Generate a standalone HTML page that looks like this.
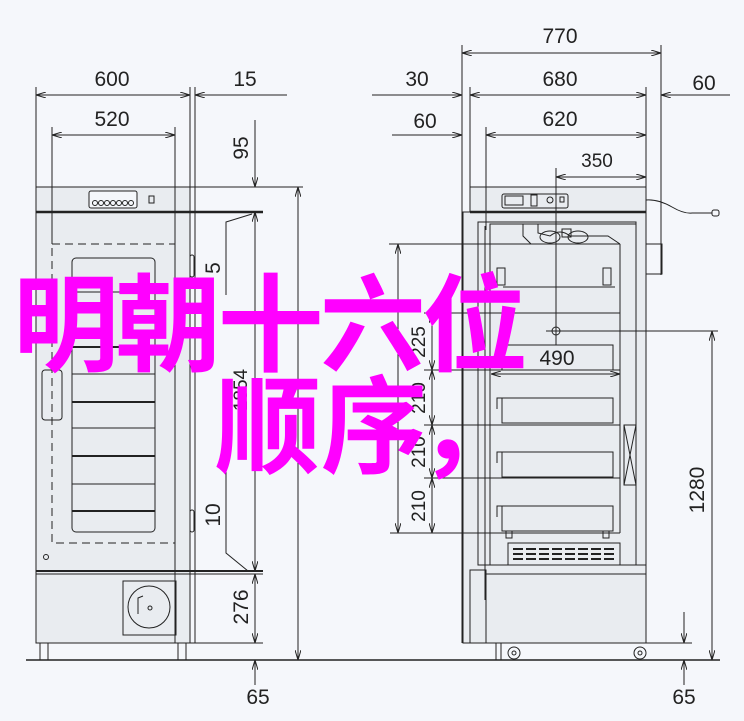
<!DOCTYPE html>
<html><head><meta charset="utf-8"><style>
html,body{margin:0;padding:0;background:#f5f7fb;}
svg{display:block}
.t{font-family:"Liberation Sans",sans-serif;font-size:21px;fill:#222;}
.m{font-family:"Liberation Sans","Noto Sans CJK SC",sans-serif;font-size:106px;font-weight:bold;fill:#ff00ff;}
</style></head><body>
<svg width="744" height="721" viewBox="0 0 744 721" xmlns="http://www.w3.org/2000/svg">
<defs>
<marker id="a" viewBox="0 0 10 6" refX="10" refY="3" markerWidth="10" markerHeight="6" orient="auto-start-reverse" markerUnits="userSpaceOnUse"><path d="M0,0 L10,3 L0,6" fill="none" stroke="#222" stroke-width="1"/></marker>
</defs>
<rect width="744" height="721" fill="#f5f7fb"/>
<g stroke="#222" stroke-width="1" fill="none">
<rect x="36" y="187" width="154" height="456" fill="#e9ecf0"/>
<line x1="36" y1="212" x2="263" y2="212" stroke-width="2.5"/>
<line x1="190" y1="187" x2="303" y2="187"/>
<rect x="89" y="191" width="48" height="17" rx="2" fill="#f5f7fb"/>
<circle cx="95" cy="203" r="2.5"/><circle cx="101" cy="203" r="2.5"/><circle cx="107" cy="203" r="2.5"/><circle cx="113" cy="203" r="2.5"/><circle cx="119" cy="203" r="2.5"/><circle cx="125" cy="203" r="2.5"/><circle cx="131" cy="203" r="2.5"/>
<rect x="149" y="196" width="5" height="7"/>
<rect x="52" y="244" width="123" height="299" stroke-dasharray="8,5"/>
<rect x="72" y="258" width="83" height="274" rx="4"/>
<line x1="72" y1="292" x2="155" y2="292"/><line x1="72" y1="347" x2="155" y2="347" stroke-width="2"/>
<line x1="72" y1="374" x2="155" y2="374"/><line x1="72" y1="402" x2="155" y2="402" stroke-width="2"/>
<line x1="72" y1="428" x2="155" y2="428"/><line x1="72" y1="456" x2="155" y2="456" stroke-width="2"/>
<line x1="72" y1="484" x2="155" y2="484"/><line x1="72" y1="511" x2="155" y2="511" stroke-width="2"/>
<rect x="42" y="370" width="20" height="50" rx="3"/>
<circle cx="46" cy="557" r="2.5"/>
<line x1="36" y1="571" x2="263" y2="571" stroke-width="2"/>
<line x1="36" y1="574" x2="263" y2="574"/>
<rect x="123" y="581" width="53" height="54"/>
<circle cx="149" cy="607" r="21"/>
<circle cx="150" cy="608" r="2"/>
<path d="M138,614 L138,598 L143,596"/>
<rect x="190" y="187" width="5" height="456"/>
<rect x="190" y="255" width="4" height="22" rx="2"/><rect x="190" y="510" width="4" height="22" rx="2"/>
<line x1="190" y1="643" x2="263" y2="643"/>
<rect x="40" y="643" width="8" height="17"/><rect x="178" y="643" width="8" height="17"/>
<line x1="26" y1="660" x2="720" y2="660" stroke-width="1.5"/>
<line x1="36" y1="87" x2="36" y2="187"/><line x1="190" y1="87" x2="190" y2="187"/><line x1="195" y1="87" x2="195" y2="187"/>
<line x1="36" y1="95" x2="190" y2="95" marker-start="url(#a)" marker-end="url(#a)"/>
<line x1="195" y1="95" x2="287" y2="95" marker-start="url(#a)"/>
<line x1="52" y1="127" x2="52" y2="244"/><line x1="175" y1="127" x2="175" y2="643"/>
<line x1="52" y1="135" x2="175" y2="135" marker-start="url(#a)" marker-end="url(#a)"/>
<line x1="255" y1="120" x2="255" y2="187" marker-end="url(#a)"/>
<line x1="255" y1="212" x2="255" y2="571" marker-start="url(#a)" marker-end="url(#a)"/>
<line x1="255" y1="574" x2="255" y2="643" marker-start="url(#a)" marker-end="url(#a)"/>
<line x1="255" y1="660" x2="255" y2="685" marker-start="url(#a)"/>
<line x1="298" y1="187" x2="298" y2="660" marker-start="url(#a)" marker-end="url(#a)"/>
<path d="M226,295 L226,222 L252,214"/>
<path d="M226,390 L226,553 L248,571"/>
<rect x="463" y="212" width="183" height="431" fill="#e9ecf0"/>
<rect x="470" y="187" width="176" height="25" fill="#e9ecf0"/>
<line x1="470" y1="212" x2="646" y2="212" stroke-width="2.5"/>
<rect x="502" y="194" width="66" height="14" rx="2"/><rect x="505" y="196" width="18" height="9"/><rect x="531" y="195" width="6" height="11"/><circle cx="550" cy="200" r="3"/><rect x="560" y="197" width="4" height="5"/>
<path d="M646,200 Q658,199 672,207 Q684,214 692,213 L712,213"/><rect x="712" y="210" width="7" height="6" rx="2"/>
<rect x="646" y="244" width="16" height="30"/>
<rect x="478" y="222" width="158" height="343"/>
<rect x="490" y="224" width="146" height="341"/>
<line x1="485" y1="226" x2="485" y2="600"/>
<path d="M523,224 L523,236 L531,244 M538,224 L538,233 L550,236 Q560,228 570,236 L608,236 L620,244"/>
<ellipse cx="550" cy="237" rx="10" ry="6"/><ellipse cx="578" cy="237" rx="10" ry="6"/><rect x="562" y="229" width="9" height="8"/>
<line x1="620" y1="244" x2="620" y2="533"/>
<rect x="497" y="268" width="8" height="17"/><rect x="603" y="268" width="8" height="17"/>
<line x1="503" y1="287" x2="615" y2="287"/>
<rect x="502" y="345" width="111" height="25"/>
<rect x="502" y="398" width="111" height="25"/>
<rect x="502" y="452" width="111" height="25"/>
<rect x="502" y="506" width="111" height="25"/>
<path d="M497,409 L497,398 L502,398 M497,463 L497,452 L502,452 M497,517 L497,506 L502,506"/>
<rect x="506" y="531" width="6" height="7"/><rect x="603" y="531" width="6" height="7"/>
<rect x="508" y="543" width="112" height="22"/>
<g stroke-width="2"><line x1="513" y1="549" x2="617" y2="549" stroke-dasharray="10,3"/><line x1="513" y1="554" x2="617" y2="554" stroke-dasharray="10,3"/><line x1="513" y1="559" x2="617" y2="559" stroke-dasharray="10,3"/></g>
<rect x="624" y="425" width="12" height="60"/><path d="M624,425 L636,485 M636,425 L624,485"/>
<line x1="485" y1="565" x2="646" y2="565"/>
<rect x="470" y="570" width="16" height="73"/>
<rect x="486" y="574" width="160" height="69"/>
<rect x="496" y="643" width="5" height="17"/>
<circle cx="514" cy="653" r="6"/><circle cx="514" cy="653" r="2"/>
<circle cx="640" cy="653" r="6"/><circle cx="640" cy="653" r="2"/>
<line x1="462" y1="45" x2="462" y2="643"/><line x1="661" y1="45" x2="661" y2="275"/>
<line x1="462" y1="53" x2="661" y2="53" marker-start="url(#a)" marker-end="url(#a)"/>
<line x1="470" y1="87" x2="470" y2="187"/><line x1="646" y1="87" x2="646" y2="187"/>
<line x1="372" y1="95" x2="462" y2="95" marker-end="url(#a)"/>
<line x1="470" y1="95" x2="646" y2="95" marker-start="url(#a)" marker-end="url(#a)"/>
<line x1="661" y1="95" x2="730" y2="95" marker-start="url(#a)"/>
<line x1="486" y1="127" x2="486" y2="230"/>
<line x1="392" y1="135" x2="462" y2="135" marker-end="url(#a)"/>
<line x1="486" y1="135" x2="646" y2="135" marker-start="url(#a)" marker-end="url(#a)"/>
<line x1="556" y1="168" x2="556" y2="345"/>
<line x1="556" y1="177" x2="646" y2="177" marker-start="url(#a)" marker-end="url(#a)"/>
<circle cx="556" cy="331" r="4"/><line x1="546" y1="331" x2="718" y2="331"/>
<line x1="389" y1="244" x2="620" y2="244"/>
<line x1="424" y1="313" x2="620" y2="313"/>
<line x1="424" y1="370" x2="620" y2="370"/>
<line x1="424" y1="425" x2="620" y2="425"/>
<line x1="424" y1="478" x2="620" y2="478"/>
<line x1="390" y1="533" x2="620" y2="533"/>
<line x1="398" y1="244" x2="398" y2="533" marker-start="url(#a)" marker-end="url(#a)"/>
<line x1="432" y1="313" x2="432" y2="370" marker-start="url(#a)" marker-end="url(#a)"/>
<line x1="432" y1="370" x2="432" y2="425" marker-start="url(#a)" marker-end="url(#a)"/>
<line x1="432" y1="425" x2="432" y2="478" marker-start="url(#a)" marker-end="url(#a)"/>
<line x1="432" y1="478" x2="432" y2="533" marker-start="url(#a)" marker-end="url(#a)"/>
<line x1="491" y1="374" x2="620" y2="374" marker-start="url(#a)" marker-end="url(#a)"/>
<line x1="712" y1="331" x2="712" y2="660" marker-start="url(#a)" marker-end="url(#a)"/>
<line x1="646" y1="643" x2="692" y2="643"/>
<line x1="684" y1="612" x2="684" y2="643" marker-end="url(#a)"/>
<line x1="684" y1="660" x2="684" y2="685" marker-start="url(#a)"/>
</g>
<g class="t">
<text x="112" y="86" text-anchor="middle">600</text>
<text x="245" y="86" text-anchor="middle">15</text>
<text x="112" y="126" text-anchor="middle">520</text>
<text x="560" y="43" text-anchor="middle">770</text>
<text x="560" y="86" text-anchor="middle">680</text>
<text x="417" y="86" text-anchor="middle">30</text>
<text x="704" y="90" text-anchor="middle">60</text>
<text x="560" y="126" text-anchor="middle">620</text>
<text x="425" y="128" text-anchor="middle">60</text>
<text x="597" y="167" text-anchor="middle" style="font-size:19px">350</text>
<text x="557" y="365" text-anchor="middle">490</text>
<text x="258" y="704" text-anchor="middle">65</text>
<text x="684" y="704" text-anchor="middle">65</text>
<text transform="translate(248,148) rotate(-90)" text-anchor="middle">95</text>
<text transform="translate(220,268) rotate(-90)" text-anchor="middle">5</text>
<text transform="translate(220,515) rotate(-90)" text-anchor="middle">10</text>
<text transform="translate(248,607) rotate(-90)" text-anchor="middle">276</text>
<text transform="translate(704,490) rotate(-90)" text-anchor="middle">1280</text>
<text transform="translate(425,342) rotate(-90)" text-anchor="middle" style="font-size:19px">225</text>
<text transform="translate(425,398) rotate(-90)" text-anchor="middle" style="font-size:19px">210</text>
<text transform="translate(425,452) rotate(-90)" text-anchor="middle" style="font-size:19px">210</text>
<text transform="translate(425,506) rotate(-90)" text-anchor="middle" style="font-size:19px">210</text>
<text transform="translate(247,390) rotate(-90)" text-anchor="middle" style="font-size:19px">1854</text>
</g>
<text class="m" x="13" y="363" textLength="515">明朝十六位</text>
<text class="m" x="215" y="465">顺序</text>
<text class="m" x="418" y="465">，</text>
</svg>
</body></html>
